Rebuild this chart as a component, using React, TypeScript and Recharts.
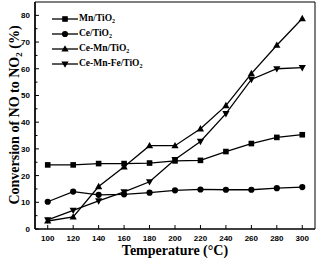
import React from "react";
import {
  LineChart,
  Line,
  XAxis,
  YAxis,
  ReferenceArea,
} from "recharts";

const temperatures = [100, 120, 140, 160, 180, 200, 220, 240, 260, 280, 300];
const mnTiO2 = [24, 24, 24.5, 24.5, 24.7, 25.5, 25.7, 29, 32, 34.3, 35.3];
const ceTiO2 = [10.2, 14, 12.8, 13, 13.6, 14.5, 14.8, 14.7, 14.7, 15.3, 15.7];
const ceMnTiO2 = [3, 4.5, 15.9, 23.3, 31.2, 31.2, 37.5, 46.2, 58.2, 68.8, 78.8];
const ceMnFeTiO2 = [3.4, 7, 10.5, 13.9, 17.7, 26, 32.8, 43.2, 56, 60, 60.4];

const xTicks = [100, 120, 140, 160, 180, 200, 220, 240, 260, 280, 300];
const yTicks = [0, 5, 10, 15, 20, 25, 30, 35, 40, 45, 50, 55, 60, 65, 70, 75, 80];

const seriesList = [
  { key: "mn", prefix: "Mn/TiO", shape: "square" },
  { key: "ce", prefix: "Ce/TiO", shape: "circle" },
  { key: "ceMn", prefix: "Ce-Mn/TiO", shape: "up" },
  { key: "ceMnFe", prefix: "Ce-Mn-Fe/TiO", shape: "down" },
];

const chartData = temperatures.map((t, i) => ({
  t,
  mn: mnTiO2[i],
  ce: ceTiO2[i],
  ceMn: ceMnTiO2[i],
  ceMnFe: ceMnFeTiO2[i],
}));

const SERIF = "Liberation Serif, Times New Roman, serif";
const SANS = "Liberation Sans, Arial, sans-serif";
const MARGIN = { top: 2, right: 3, left: 0, bottom: 0 };

// draws one marker centred on cx, cy
const markerPath = (shape: string, cx: number, cy: number) => {
  if (shape === "square") {
    return <rect x={cx - 2.8} y={cy - 2.8} width={5.6} height={5.6} fill="#000" />;
  }
  if (shape === "circle") {
    return <circle cx={cx} cy={cy} r={3.1} fill="#000" />;
  }
  if (shape === "up") {
    return (
      <polygon
        points={`${cx},${cy - 3.8} ${cx - 3.6},${cy + 2.6} ${cx + 3.6},${cy + 2.6}`}
        fill="#000"
      />
    );
  }
  return (
    <polygon
      points={`${cx},${cy + 3.8} ${cx - 3.6},${cy - 2.6} ${cx + 3.6},${cy - 2.6}`}
      fill="#000"
    />
  );
};

const makeDot = (shape: string) => (props: any) => {
  const { cx, cy, index } = props;
  if (cx == null || cy == null) return <g key={`d-${shape}-${index}`} />;
  return <g key={`d-${shape}-${index}`}>{markerPath(shape, cx, cy)}</g>;
};

// inward ticks, labels only on major values (tickSize 0 + margin 5 => axis at x + 5)
const YTick = (props: any) => {
  const { x, y, payload } = props;
  const axisX = x + 5;
  const major = payload.value % 10 === 0;
  return (
    <g>
      <line x1={axisX} x2={axisX + (major ? 4 : 2.5)} y1={y} y2={y} stroke="#000" strokeWidth={1} />
      {major ? (
        <text x={x} y={y + 3} textAnchor="end" fontFamily={SANS} fontWeight="bold" fontSize={8} fill="#000">
          {payload.value}
        </text>
      ) : null}
    </g>
  );
};

// tickSize 6 + margin 0 => axis at y - 6
const renderXTick = (props: any) => {
  const { x, y, payload } = props;
  const axisY = y - 6;
  return (
    <g>
      <line x1={x} x2={x} y1={axisY} y2={axisY - 4} stroke="#000" strokeWidth={1} />
      <text x={x} y={y} dy="0.71em" textAnchor="middle" fontFamily={SANS} fontWeight="bold" fontSize={8} fill="#000">
        {payload.value}
      </text>
    </g>
  );
};

// rotated title, centred on the plot's vertical middle
const YTitle = () => (
  <text
    x={14}
    y={115}
    transform="rotate(-90, 14, 115)"
    textAnchor="middle"
    dy="0.35em"
    fontFamily={SERIF}
    fontWeight="bold"
    fontSize={14}
    fill="#000"
  >
    Conversion of NO to NO
    <tspan fontSize={9} dy={3}>2</tspan>
    <tspan dy={-3}> (%)</tspan>
  </text>
);

const XTitle = (props: any) => {
  const vb = props.viewBox || {};
  return (
    <text
      x={vb.x + vb.width / 2}
      y={vb.y + 26}
      textAnchor="middle"
      fontFamily={SERIF}
      fontWeight="bold"
      fontSize={14}
      fill="#000"
    >
      Temperature (°C)
    </text>
  );
};

// legend drawn as an overlay so it takes no room from the plot
const ChartLegend = () => (
  <div
    style={{
      position: "absolute",
      left: 52,
      top: 11,
      fontFamily: SERIF,
      fontWeight: "bold",
      fontSize: 9.5,
      color: "#000",
      lineHeight: 1,
    }}
  >
    {seriesList.map((s) => (
      <div key={s.key} style={{ display: "flex", alignItems: "center", height: 15 }}>
        <svg width={27} height={10} style={{ display: "block" }}>
          <line x1={0} x2={26} y1={5} y2={5} stroke="#000" strokeWidth={1.3} />
          {markerPath(s.shape, 13, 5)}
        </svg>
        <span style={{ whiteSpace: "nowrap" }}>
          {s.prefix}
          <sub style={{ fontSize: 6, verticalAlign: "-2px", lineHeight: 0 }}>2</sub>
        </span>
      </div>
    ))}
  </div>
);

// second chart laid over the first, holding only the left axis with its ticks
const YAxisLayer = () => (
  <div style={{ position: "absolute", left: 0, top: 0, pointerEvents: "none" }}>
    <LineChart width={318} height={262} data={chartData} margin={MARGIN}>
      <XAxis
        dataKey="t"
        type="number"
        domain={[90, 310]}
        height={33}
        tick={false}
        tickLine={false}
        axisLine={false}
      />
      <YAxis
        type="number"
        domain={[0, 85]}
        ticks={yTicks}
        interval={0}
        width={35}
        tickSize={0}
        tickMargin={5}
        tickLine={false}
        tick={<YTick />}
        axisLine={{ stroke: "#000", strokeWidth: 1 }}
      />
    </LineChart>
  </div>
);

export default function App() {
  return (
    <div style={{ position: "absolute", left: 0, top: 0, width: 318, height: 262, background: "#fff" }}>
      <LineChart width={318} height={262} data={chartData} margin={MARGIN}>
        <XAxis
          dataKey="t"
          type="number"
          domain={[90, 310]}
          ticks={xTicks}
          interval={0}
          height={33}
          tickSize={6}
          tickMargin={0}
          tickLine={false}
          tick={renderXTick}
          axisLine={{ stroke: "#000", strokeWidth: 1 }}
          label={{ content: <XTitle /> }}
        />
        <YAxis
          type="number"
          domain={[0, 85]}
          ticks={yTicks}
          interval={0}
          width={35}
          tickSize={0}
          tickMargin={5}
          tickLine={false}
          tick={<YTick />}
          axisLine={{ stroke: "#000", strokeWidth: 1 }}
          label={{ content: <YTitle /> }}
        />
        <ReferenceArea
          x1={90}
          x2={310}
          y1={0}
          y2={85}
          fill="none"
          stroke="#000"
          strokeWidth={1}
          ifOverflow="visible"
        />
        {seriesList.map((s) => (
          <Line
            key={s.key}
            dataKey={s.key}
            stroke="#000"
            strokeWidth={1.3}
            dot={makeDot(s.shape)}
            activeDot={false}
            isAnimationActive={false}
          />
        ))}
      </LineChart>
      <YAxisLayer />
      <ChartLegend />
    </div>
  );
}
